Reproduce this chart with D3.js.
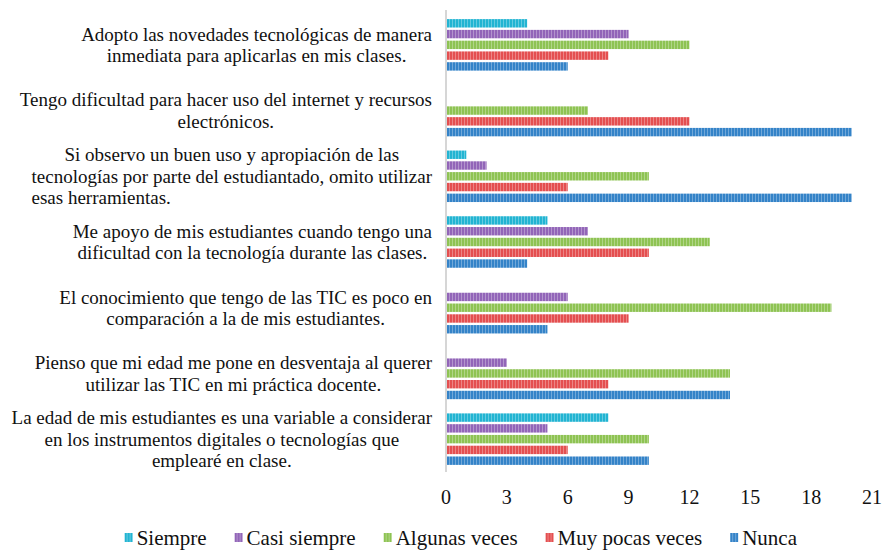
<!DOCTYPE html>
<html>
<head>
<meta charset="utf-8">
<script src="https://cdn.jsdelivr.net/npm/d3@7"></script>
<style>
  body { margin: 0; background: #fff; }
</style>
</head>
<body>
<div id="chart"></div>
<script>
// ---------------------------------------------
// ---------           Data           -----------
// ---------------------------------------------

// Category labels, top to bottom, split in lines as in the picture
const categoryLines = [
  ["Adopto las novedades tecnológicas de manera", "inmediata para aplicarlas en mis clases."],
  ["Tengo dificultad para hacer uso del internet y recursos", "electrónicos."],
  ["Si observo un buen uso y apropiación de las", "tecnologías por parte del estudiantado, omito utilizar", "esas herramientas."],
  ["Me apoyo de mis estudiantes cuando tengo una", "dificultad con la tecnología durante las clases."],
  ["El conocimiento que tengo de las TIC es poco en", "comparación a la de mis estudiantes."],
  ["Pienso que mi edad me pone en desventaja al querer", "utilizar las TIC en mi práctica docente."],
  ["La edad de mis estudiantes es una variable a considerar", "en los instrumentos digitales o tecnologías que", "emplearé en clase."]
];

const seriesNames = ["Siempre", "Casi siempre", "Algunas veces", "Muy pocas veces", "Nunca"];

const siempre       = [4, 0, 1, 5, 0, 0, 8];
const casiSiempre   = [9, 0, 2, 7, 6, 3, 5];
const algunasVeces  = [12, 7, 10, 13, 19, 14, 10];
const muyPocasVeces = [8, 12, 6, 10, 9, 8, 6];
const nunca         = [6, 20, 20, 4, 5, 14, 10];

const xTicks = [0, 3, 6, 9, 12, 15, 18, 21];

const seriesValues = [siempre, casiSiempre, algunasVeces, muyPocasVeces, nunca];
const seriesColors = ["#22b4d2", "#9265b8", "#8ec353", "#e44f50", "#3483c8"];

// ---------------------------------------------
// ---------      Basic Chart Layout    --------
// ---------------------------------------------

const width = 885, height = 550;
const plot = { left: 446, right: 872, top: 12, bottom: 472 };
const fontFamily = "Liberation Serif";

const svg = d3.select("#chart")
  .append("svg")
    .attr("width", width)
    .attr("height", height)
    .attr("font-family", fontFamily);

// striped fills (the bars have thin lighter vertical stripes)
const defs = svg.append("defs");
seriesColors.forEach((c, i) => {
  const p = defs.append("pattern")
    .attr("id", "stripe" + i)
    .attr("patternUnits", "userSpaceOnUse")
    .attr("width", 3)
    .attr("height", 10);
  p.append("rect").attr("width", 3).attr("height", 10).attr("fill", c);
  p.append("rect").attr("x", 2).attr("width", 1).attr("height", 10)
    .attr("fill", "#fff").attr("opacity", 0.3);
});

const x = d3.scaleLinear().domain([0, 21]).range([plot.left, plot.right]);

const y0 = d3.scaleBand()
  .domain(d3.range(categoryLines.length))
  .range([plot.top, plot.bottom]);

const y1 = d3.scaleBand()
  .domain(d3.range(seriesNames.length))
  .range([0, y0.bandwidth()])
  .paddingInner(0.22)
  .paddingOuter(0.66);

// ---------------------------------------------
// ---------         Bars             ----------
// ---------------------------------------------

const barData = [];
categoryLines.forEach((_, ci) => {
  seriesValues.forEach((vals, si) => {
    barData.push({ cat: ci, series: si, value: vals[ci] });
  });
});

svg.append("g")
  .selectAll("rect")
  .data(barData.filter(d => d.value > 0))
  .join("rect")
    .attr("x", x(0) + 1)
    .attr("y", d => y0(d.cat) + y1(d.series))
    .attr("width", d => x(d.value) - x(0) - 1)
    .attr("height", y1.bandwidth())
    .attr("fill", d => "url(#stripe" + d.series + ")");

// vertical axis line
svg.append("line")
  .attr("x1", plot.left).attr("x2", plot.left)
  .attr("y1", plot.top - 2).attr("y2", plot.bottom)
  .attr("stroke", "#d6d6d6")
  .attr("stroke-width", 2);

// ---------------------------------------------
// ---------      Category labels      ---------
// ---------------------------------------------

const labelRight = 432;
const lineHeight = 21.5;
const labelSize = 19;
// the third line of the third label sits flush left in the picture
const leftLines = { 2: [2] };

const labels = svg.append("g")
  .attr("font-size", labelSize)
  .attr("fill", "#111");

categoryLines.forEach((lines, ci) => {
  const g = labels.append("g");
  const cy = y0(ci) + y0.bandwidth() / 2;
  const texts = lines.map((line, li) => g.append("text")
    .attr("y", cy + (li - (lines.length - 1) / 2) * lineHeight)
    .attr("dy", "0.35em")
    .text(line));
  const widths = texts.map(t => t.node().getComputedTextLength());
  const maxW = d3.max(widths);
  const center = labelRight - maxW / 2;
  texts.forEach((t, li) => {
    if (leftLines[ci] && leftLines[ci].includes(li)) {
      t.attr("x", labelRight - maxW).attr("text-anchor", "start");
    } else {
      t.attr("x", center).attr("text-anchor", "middle");
    }
  });
});

// ---------------------------------------------
// ---------         X axis            ---------
// ---------------------------------------------

svg.append("g")
  .attr("font-size", 20)
  .attr("fill", "#111")
  .selectAll("text")
  .data(xTicks)
  .join("text")
    .attr("x", d => x(d))
    .attr("y", 504)
    .attr("text-anchor", "middle")
    .text(d => d);

// ---------------------------------------------
// ---------         Legend            ---------
// ---------------------------------------------

const legend = svg.append("g").attr("font-size", 21).attr("fill", "#111");
const legendGap = 28;
let lx = 0;
seriesNames.forEach((name, i) => {
  const it = legend.append("g").attr("transform", `translate(${lx},0)`);
  it.append("rect")
    .attr("x", 0).attr("y", -12)
    .attr("width", 8).attr("height", 9)
    .attr("fill", "url(#stripe" + i + ")");
  const t = it.append("text").attr("x", 12).attr("y", 0).text(name);
  lx += 12 + t.node().getComputedTextLength() + legendGap;
});
const legendWidth = lx - legendGap;
legend.attr("transform", `translate(${797 - legendWidth},545)`);
</script>
</body>
</html>
